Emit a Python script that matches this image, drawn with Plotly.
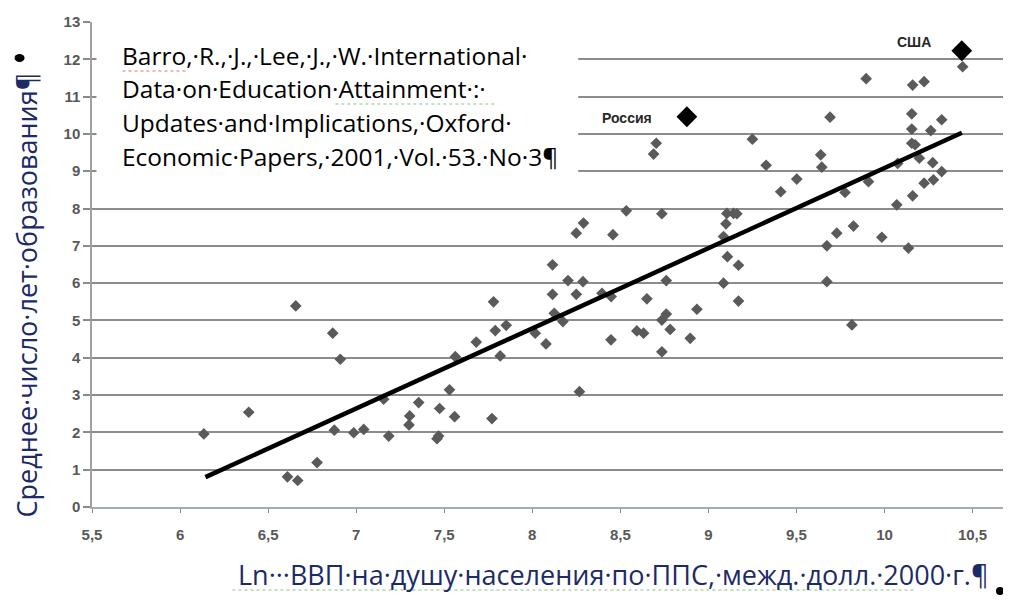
import plotly.graph_objects as go

# ---- data ----
gdp_ln = [6.135, 6.39, 6.657, 6.867, 6.91, 6.61, 6.668, 6.778, 6.876, 6.986,
          7.043, 7.185, 7.156, 7.30, 7.304, 7.355, 7.468, 7.459, 7.474, 7.53,
          7.559, 7.563, 7.682, 7.771, 7.78, 7.79, 7.852, 7.818, 8.017, 8.078,
          8.125, 8.174, 8.115, 8.115, 8.203, 8.288, 8.25, 8.25, 8.291, 8.268,
          8.704, 8.689, 9.25, 9.328, 8.534, 8.736, 8.458, 9.105, 9.143, 9.162,
          9.10, 9.086, 9.108, 9.171, 9.086, 9.171, 8.761, 8.651, 8.396, 8.448,
          8.935, 8.761, 8.736, 8.783, 8.594, 8.632, 8.447, 8.897, 8.736,
          10.444, 9.896, 10.16, 10.225, 9.691, 10.155, 10.155, 10.263, 10.325,
          10.155, 10.174, 10.198, 9.638, 9.644, 9.502, 9.411, 9.776, 9.909,
          10.075, 10.274, 10.325, 10.225, 10.278, 10.16, 10.07, 9.729, 9.824,
          9.673, 9.985, 10.136, 9.673, 9.815]
school_years = [1.96, 2.54, 5.39, 4.66, 3.96, 0.81, 0.71, 1.19, 2.06, 1.99,
                2.08, 1.90, 2.89, 2.20, 2.44, 2.80, 1.90, 1.83, 2.64, 3.14,
                2.42, 4.03, 4.42, 2.37, 5.50, 4.73, 4.87, 4.05, 4.66, 4.37,
                5.19, 4.97, 6.49, 5.70, 6.07, 6.04, 5.70, 7.34, 7.61, 3.09,
                9.75, 9.46, 9.86, 9.16, 7.94, 7.86, 7.30, 7.87, 7.87, 7.86,
                7.59, 7.25, 6.71, 6.48, 6.00, 5.52, 6.07, 5.58, 5.73, 5.64,
                5.30, 5.17, 5.01, 4.76, 4.72, 4.66, 4.48, 4.52, 4.16,
                11.80, 11.48, 11.31, 11.40, 10.45, 10.54, 10.13, 10.09, 10.38,
                9.75, 9.71, 9.35, 9.44, 9.11, 8.79, 8.45, 8.43, 8.72,
                9.21, 9.23, 8.99, 8.68, 8.77, 8.34, 8.10, 7.34, 7.53,
                7.00, 7.23, 6.94, 6.04, 4.88]

highlight_names = ["США", "Россия"]
highlight_x = [10.439, 8.878]
highlight_y = [12.23, 10.46]

trend_x = [6.144, 10.44]
trend_y = [0.80, 10.03]

x_ticks = [5.5, 6, 6.5, 7, 7.5, 8, 8.5, 9, 9.5, 10, 10.5]
y_ticks = list(range(0, 14))

source_lines = [
    "Barro,·R.,·J.,·Lee,·J.,·W.·International·",
    "Data·on·Education·Attainment·:·",
    "Updates·and·Implications,·Oxford·",
    "Economic·Papers,·2001,·Vol.·53.·No·3¶",
]
y_title = "Среднее·число·лет·образования¶"
x_title = "Ln···ВВП·на·душу·населения·по·ППС,·межд.·долл.·2000·г.¶"

# ---- layout geometry (target-image pixels); page body adds an 8px offset ----
OFF = 8
W, H = 1011 - 2 * OFF, 610 - 2 * OFF
L, T, B = 91.5, 22, 507
R = OFF + W          # right edge of plot area in image pixels
PX_PER_X = 176.2     # pixels per x unit


def px_x(p):
    return (p - L) / (R - L)


def px_y(p):
    return (B - p) / (B - T)


x_max = 5.5 + (R - L) / PX_PER_X

NAVY = "#1c2a66"
TICKC = "#585858"
TICKFONT = dict(family="Liberation Sans Narrow, Liberation Sans, Arial", size=15,
                color=TICKC, weight="bold")

fig = go.Figure()

fig.add_trace(go.Scatter(
    x=gdp_ln, y=school_years, mode="markers",
    marker=dict(symbol="diamond", size=9, color="#5a5a5a"),
    showlegend=False, hoverinfo="skip"))

fig.add_trace(go.Scatter(
    x=trend_x, y=trend_y, mode="lines",
    line=dict(color="black", width=4.5),
    showlegend=False, hoverinfo="skip"))

fig.add_trace(go.Scatter(
    x=highlight_x, y=highlight_y, mode="markers",
    marker=dict(symbol="diamond", size=16, color="black"),
    showlegend=False, hoverinfo="skip"))

annotations = []
label_pos = [(10.168, 12.47), (8.539, 10.43)]
for name, (lx, ly) in zip(highlight_names, label_pos):
    annotations.append(dict(
        x=lx, y=ly, xref="x", yref="y", text="<b>%s</b>" % name,
        showarrow=False, font=dict(family="Liberation Sans, Arial", size=14, color="#262626")))

line_y_px = [56, 89, 122, 156]
for txt, py in zip(source_lines, line_y_px):
    annotations.append(dict(
        x=px_x(120), y=px_y(py), xref="paper", yref="paper", text=txt,
        xanchor="left", yanchor="middle", showarrow=False,
        font=dict(family="Open Sans", size=24.5, color="black")))

annotations.append(dict(
    x=px_x(25), y=px_y(295), xref="paper", yref="paper", text=y_title,
    textangle=-90, showarrow=False, xanchor="center", yanchor="middle",
    borderpad=0,
    font=dict(family="Open Sans", size=27, color=NAVY)))
annotations.append(dict(
    x=px_x(613), y=px_y(574), xref="paper", yref="paper", text=x_title,
    showarrow=False, xanchor="center", yanchor="middle",
    font=dict(family="Open Sans", size=27, color=NAVY)))

shapes = [
    dict(type="rect", xref="paper", yref="paper",
         x0=px_x(96), x1=px_x(578), y0=px_y(190), y1=px_y(30),
         fillcolor="white", line=dict(width=0), layer="above"),
    dict(type="line", xref="paper", yref="paper",
         x0=px_x(232), x1=px_x(915), y0=px_y(590), y1=px_y(590),
         line=dict(color="#8cc08c", width=1, dash="dot"), layer="above"),
    dict(type="line", xref="paper", yref="paper",
         x0=px_x(122), x1=px_x(186), y0=px_y(71), y1=px_y(71),
         line=dict(color="#e07070", width=1, dash="dot"), layer="above"),
    dict(type="line", xref="paper", yref="paper",
         x0=px_x(335), x1=px_x(495), y0=px_y(104), y1=px_y(104),
         line=dict(color="#8cc08c", width=1, dash="dot"), layer="above"),
    dict(type="circle", xref="paper", yref="paper", xsizemode="pixel", ysizemode="pixel",
         xanchor=px_x(19), yanchor=px_y(58), x0=-5, x1=5, y0=-4, y1=4,
         fillcolor="black", line=dict(width=0), layer="above"),
    dict(type="circle", xref="paper", yref="paper", xsizemode="pixel", ysizemode="pixel",
         xanchor=px_x(1000), yanchor=px_y(591), x0=-4, x1=4, y0=-4, y1=4,
         fillcolor="black", line=dict(width=0), layer="above"),
]

fig.update_layout(
    width=W, height=H,
    margin=dict(l=L - OFF, r=0, t=T - OFF, b=(OFF + H) - B, pad=0),
    paper_bgcolor="white", plot_bgcolor="white",
    separators=", ",
    showlegend=False,
    annotations=annotations,
    shapes=shapes,
    xaxis=dict(
        range=[5.5, x_max], tickvals=x_ticks, showgrid=False, zeroline=False,
        showline=True, linecolor="#a3aabb", linewidth=2,
        ticks="outside", ticklen=4, tickwidth=1, tickcolor="#8a8a8a",
        ticklabelstandoff=9, tickfont=TICKFONT,
    ),
    yaxis=dict(
        range=[0, 13], tickvals=y_ticks, showgrid=True, gridcolor="#8c8c8c", gridwidth=2,
        zeroline=False, showline=True, linecolor="#a0a0a0", linewidth=1.5,
        ticks="outside", ticklen=7, tickwidth=1.5, tickcolor="#8a8a8a",
        tickfont=TICKFONT,
    ),
)

fig.write_html("out.html")
